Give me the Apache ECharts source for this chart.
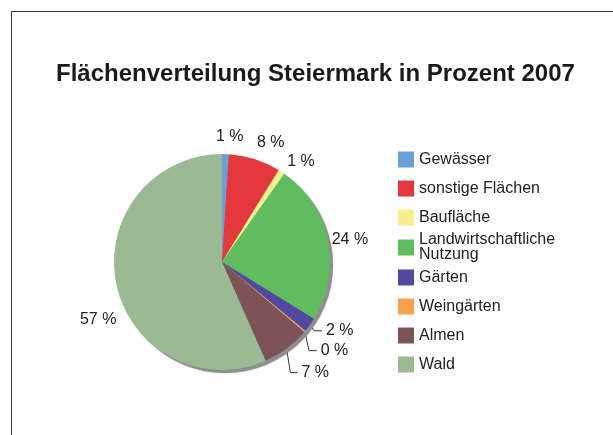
<!DOCTYPE html>
<html>
<head>
<meta charset="utf-8">
<script src="https://cdn.jsdelivr.net/npm/echarts@6/dist/echarts.min.js"></script>
<style>
  html, body { margin: 0; padding: 0; background: #fff; overflow: hidden; }
  #wrap { position: relative; width: 613px; height: 435px; overflow: hidden; }
  #chart { position: absolute; left: 0; top: 0; width: 613px; height: 435px; }
  #frame { position: absolute; left: 11px; top: 11px; width: 700px; height: 600px; border: 1px solid #3c3c3c; pointer-events: none; }
</style>
</head>
<body>
<div id="wrap"><div id="chart"></div><div id="frame"></div></div>
<script>
// Flächenverteilung Steiermark 2007, Anteile in Prozent
const categories = ['Gewässer', 'sonstige Flächen', 'Baufläche', 'Landwirtschaftliche Nutzung', 'Gärten', 'Weingärten', 'Almen', 'Wald'];
const shares = [1.0, 7.8, 1.0, 24.0, 2.2, 0.2, 7.2, 56.6];

const colors = ['#6a9fd8', '#e3393c', '#f8f08a', '#5fbd5f', '#5148a0', '#f9a04e', '#7d5358', '#99ba93'];
// leader line per slice: [length, length2, show line]
const leaders = [[17, -14, false], [17, -7, false], [12, -5, false], [6, -6, false],
                 [10, 4, true], [30, -11, true], [30, -7, true], [5, -9, false]];

const font = 'Liberation Sans';

const chart = echarts.init(document.getElementById('chart'));

const option = {
  animation: false,
  backgroundColor: 'transparent',
  title: {
    text: 'Flächenverteilung Steiermark in Prozent 2007',
    left: 56,
    top: 62,
    padding: 0,
    textStyle: { fontFamily: font, fontSize: 24, fontWeight: 'bold', color: '#1a1a1a', lineHeight: 24 }
  },
  legend: {
    orient: 'vertical',
    left: 398,
    top: 145,
    padding: 0,
    itemGap: 0,
    itemWidth: 16,
    itemHeight: 16,
    icon: 'rect',
    selectedMode: false,
    textStyle: { fontFamily: font, fontSize: 16, color: '#222', lineHeight: 15 },
    formatter: function (name) { return name.replace('liche ', 'liche\n'); },
    data: categories.map(function (n) {
      return { name: n, textStyle: { padding: n.indexOf('Nutzung') > 0 ? 0 : [7, 0, 7, 0] } };
    })
  },
  series: [
    {
      // shadow below the pie
      type: 'pie',
      silent: true,
      center: [225, 265],
      radius: 108,
      label: { show: false },
      labelLine: { show: false },
      itemStyle: { color: '#8e8e8e', borderWidth: 0, shadowBlur: 2, shadowColor: 'rgba(0,0,0,0.3)' },
      emphasis: { disabled: true },
      data: [{ name: '', value: 1 }]
    },
    {
      type: 'pie',
      center: [222, 262],
      radius: 108,
      startAngle: 90,
      clockwise: true,
      avoidLabelOverlap: false,
      emphasis: { disabled: true },
      itemStyle: { borderWidth: 0 },
      label: {
        show: true,
        position: 'outside',
        fontFamily: font,
        fontSize: 16,
        color: '#222',
        distanceToLabelLine: 4,
        formatter: function (p) { return Math.round(p.value) + ' %'; }
      },
      labelLine: { lineStyle: { color: '#333', width: 1 } },
      labelLayout: function (p) {
        const i = p.dataIndex;
        if (i === 7) return { dy: 34 };
        if (leaders[i][2] && p.labelLinePoints) {
          const a = p.labelLinePoints[0], b = p.labelLinePoints[2];
          return { labelLinePoints: [a, [a[0] + (b[0] - a[0]) * 0.35, b[1]], b] };
        }
        return {};
      },
      data: categories.map(function (n, i) {
        return {
          name: n,
          value: shares[i],
          itemStyle: { color: colors[i] },
          labelLine: { show: leaders[i][2], length: leaders[i][0], length2: leaders[i][1] }
        };
      })
    }
  ]
};

chart.setOption(option);
</script>
</body>
</html>
